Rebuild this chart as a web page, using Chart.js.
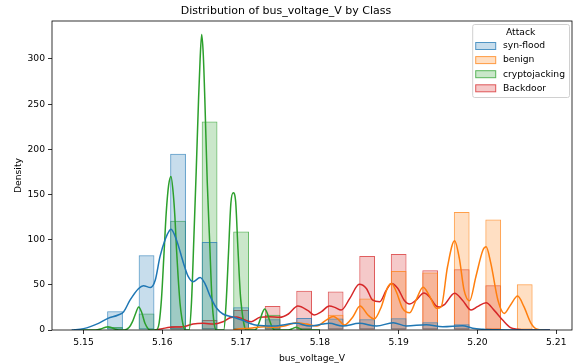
<!DOCTYPE html>
<html>
<head>
<meta charset="utf-8">
<script src="https://cdn.jsdelivr.net/npm/chart.js@4"></script>
<style>
  html, body { margin: 0; padding: 0; background: #fff; }
  #wrap { width: 574px; height: 364px; }
</style>
</head>
<body>
<div id="wrap"><canvas id="myChart" width="574" height="364"></canvas></div>
<script>
// histogram bins (centre of each 0.002 wide bar)
let binCenters = [5.154, 5.158, 5.162, 5.166, 5.170, 5.174, 5.178, 5.182, 5.186, 5.190, 5.194, 5.198, 5.202, 5.206];

let synFloodHist = [20.7, 82.6, 195, 97.3, 25.1, 11.8, 13.3, 12.7, 11.8, 12.9, 8.5, 6.3, 0, 0];
let benignHist = [0, 0, 0, 0, 0, 2, 6, 17, 35, 65.3, 63.6, 130.5, 122.4, 50.5];
let cryptoHist = [3.3, 18.4, 121, 230.8, 109, 17, 2, 0, 0, 0, 0, 0, 0, 0];
let backdoorHist = [0, 0, 4.4, 11, 22, 26.5, 43.5, 42.7, 82, 84, 66, 67.1, 49.4, 0];

// kde curves
let synFloodKdeX = [5.1485, 5.1500, 5.1519, 5.1531, 5.1544, 5.1551, 5.1559, 5.1570, 5.1576, 5.1585, 5.1591, 5.1597, 5.1604, 5.1609, 5.1611, 5.1618, 5.1627, 5.1633, 5.1639, 5.1648, 5.1654, 5.1661, 5.1669, 5.1677, 5.1688, 5.1701, 5.1711, 5.1720, 5.1741, 5.1770, 5.1787, 5.1804, 5.1812, 5.1829, 5.1850, 5.1872, 5.1893, 5.1910, 5.1935, 5.1956, 5.1981, 5.1994, 5.2007, 5.2025, 5.2050, 5.2092];
let synFloodKdeY = [0, 1.5, 7.4, 12.9, 16.6, 20.3, 33, 46, 49, 47, 55, 81, 101, 110, 111.4, 99.6, 73.7, 59, 53.5, 58, 51.6, 36.9, 24, 17.7, 14.7, 11, 7.4, 5.2, 4.4, 7.4, 4.4, 6.6, 7.4, 4.4, 7.4, 4.4, 8.1, 4.4, 5.9, 3.7, 4.8, 1.9, 0.8, 0.2, 0, 0];

let benignKdeX = [5.1690, 5.1694, 5.1711, 5.1730, 5.1741, 5.1755, 5.1770, 5.1783, 5.1796, 5.1808, 5.1817, 5.1823, 5.1831, 5.1842, 5.1851, 5.1861, 5.1869, 5.1878, 5.1886, 5.1891, 5.1897, 5.1905, 5.1914, 5.1922, 5.1931, 5.1939, 5.1948, 5.1954, 5.1962, 5.1971, 5.1977, 5.1983, 5.1990, 5.1998, 5.2007, 5.2011, 5.2017, 5.2026, 5.2034, 5.2042, 5.2051, 5.2059, 5.2068, 5.2076, 5.2085];
let benignKdeY = [0, 0.8, 1.9, 3.7, 3, 4.4, 8.1, 6.6, 4.4, 11, 14.9, 12, 5.5, 14.7, 26.5, 16.6, 12.2, 25.8, 47.2, 51.6, 42.4, 24, 19.2, 33, 47.2, 38, 24, 25.8, 70, 98.8, 79.3, 44.2, 32.4, 59, 88.5, 92.1, 73.7, 33, 18.4, 27.7, 37.6, 25.8, 7.4, 0.8, 0];

let cryptoKdeX = [5.1488, 5.1515, 5.1522, 5.1527, 5.1531, 5.1535, 5.1540, 5.1545, 5.1552, 5.1558, 5.1562, 5.1566, 5.1570, 5.1574, 5.1578, 5.1582, 5.1585, 5.1592, 5.1596, 5.1599, 5.1602, 5.1605, 5.1608, 5.1611, 5.1614, 5.1616, 5.1618, 5.1620, 5.16225, 5.1625, 5.1627, 5.1630, 5.1634, 5.1637, 5.1640, 5.1643, 5.1646, 5.1648, 5.1650, 5.1652, 5.1654, 5.1657, 5.1660, 5.1663, 5.1666, 5.1669, 5.1678, 5.1681, 5.1684, 5.1687, 5.1690, 5.1693, 5.1696, 5.1699, 5.1701, 5.1704, 5.1706, 5.1717, 5.1720, 5.1724, 5.1727, 5.1730, 5.1733, 5.1736, 5.1740, 5.1743, 5.1760, 5.1766, 5.1770, 5.1774, 5.1779, 5.1800];
let cryptoKdeY = [0, 0, 1.2, 2.8, 3.7, 2.8, 1, 0, 0, 3, 9, 18, 25.5, 19, 7.4, 1.5, 0, 0, 8, 35, 82, 130, 160, 170, 150, 125, 90, 60, 29.5, 12, 3.7, 0, 0, 30, 100, 175, 255, 300, 327, 305, 255, 165, 100, 35, 6, 0, 0, 30, 85, 140, 152, 143, 90, 40, 22, 5, 0, 0, 2, 11, 19, 23.2, 19, 11, 2, 0, 0, 1.8, 3, 1.8, 0, 0];

let backdoorKdeX = [5.1590, 5.1600, 5.1610, 5.1627, 5.1639, 5.1652, 5.1665, 5.1677, 5.1686, 5.1694, 5.1700, 5.1707, 5.1713, 5.1724, 5.1736, 5.1749, 5.1760, 5.1772, 5.1785, 5.1793, 5.1802, 5.1812, 5.1819, 5.1827, 5.1838, 5.1850, 5.1859, 5.1867, 5.1876, 5.1884, 5.1891, 5.1899, 5.1907, 5.1914, 5.1922, 5.1932, 5.1939, 5.1947, 5.1952, 5.1958, 5.1971, 5.1981, 5.1992, 5.2000, 5.2011, 5.2021, 5.2032, 5.2042, 5.2051, 5.2060, 5.2092];
let backdoorKdeY = [0, 1.5, 3, 3.7, 6.6, 7.4, 6.6, 9.2, 13.5, 14.5, 13, 10.3, 9.2, 14, 14.7, 14, 17.7, 26.5, 21.4, 16.6, 20.3, 26.5, 25, 22, 35, 50.5, 46, 33, 31.3, 43.5, 51.6, 46, 33, 28.8, 33, 41, 36.9, 27, 25.5, 28, 40.6, 33, 22, 25.8, 30.2, 22, 11, 2.6, 0.8, 0, 0];

let xTicks = [5.15, 5.16, 5.17, 5.18, 5.19, 5.20, 5.21];
let yTicks = [0, 50, 100, 150, 200, 250, 300];

let labels = ['syn-flood', 'benign', 'cryptojacking', 'Backdoor'];
let colors = ['31, 119, 180', '255, 127, 14', '44, 160, 44', '214, 39, 40'];
let hists = [synFloodHist, benignHist, cryptoHist, backdoorHist];
let kdeX = [synFloodKdeX, benignKdeX, cryptoKdeX, backdoorKdeX];
let kdeY = [synFloodKdeY, benignKdeY, cryptoKdeY, backdoorKdeY];

const FONT = '"DejaVu Sans", sans-serif';

let datasets = [];
labels.forEach((name, i) => {
    datasets.push({
        type: 'bar',
        label: name,
        data: binCenters.map((x, j) => ({ x: x, y: hists[i][j] })),
        backgroundColor: 'rgba(' + colors[i] + ', 0.25)',
        borderColor: 'rgba(' + colors[i] + ', 0.75)',
        borderWidth: 1,
        borderSkipped: false,
        grouped: false,
        barPercentage: 1,
        categoryPercentage: 0.5,
        order: 2
    });
});
labels.forEach((name, i) => {
    datasets.push({
        type: 'line',
        label: name + ' kde',
        data: kdeX[i].map((x, j) => ({ x: x, y: kdeY[i][j] })),
        borderColor: 'rgb(' + colors[i] + ')',
        borderWidth: 1.5,
        pointRadius: 0,
        fill: false,
        cubicInterpolationMode: 'monotone',
        order: 1
    });
});

// matplotlib style frame round the axes
const frame = {
    id: 'frame',
    afterDatasetsDraw(chart) {
        const a = chart.chartArea, ctx = chart.ctx;
        ctx.save();
        ctx.strokeStyle = '#000';
        ctx.lineWidth = 0.8;
        ctx.strokeRect(a.left, a.top, a.right - a.left, a.bottom - a.top);
        ctx.restore();
    }
};

// legend box with title, top right inside the axes
const attackLegend = {
    id: 'attackLegend',
    afterDraw(chart) {
        const a = chart.chartArea, ctx = chart.ctx;
        const items = chart.data.datasets.filter(d => d.type === 'bar');
        ctx.save();
        ctx.font = '9.2px ' + FONT;
        const textW = Math.max(...items.map(d => ctx.measureText(d.label).width));
        const w = 3 + 20 + 7.7 + textW + 4;
        const h = 73;
        const x = a.right - 3 - w;
        const y = a.top + 3;
        ctx.fillStyle = 'rgba(255,255,255,0.8)';
        ctx.strokeStyle = '#d0d0d0';
        ctx.lineWidth = 1;
        ctx.beginPath();
        ctx.roundRect(x + 0.5, y + 0.5, w, h, 2);
        ctx.fill();
        ctx.stroke();
        ctx.fillStyle = '#000';
        ctx.textBaseline = 'middle';
        ctx.textAlign = 'center';
        ctx.fillText('Attack', x + w / 2, y + 8.5);
        ctx.textAlign = 'left';
        items.forEach((d, i) => {
            const cy = y + 22 + i * 14.1;
            ctx.fillStyle = d.backgroundColor;
            ctx.fillRect(x + 3.5, cy - 3.5, 20, 7);
            ctx.strokeStyle = d.borderColor;
            ctx.strokeRect(x + 3.5, cy - 3.5, 20, 7);
            ctx.fillStyle = '#000';
            ctx.fillText(d.label, x + 3 + 20 + 7.7, cy);
        });
        ctx.restore();
    }
};

let myChart = document.getElementById('myChart').getContext('2d');

let chart = new Chart(myChart, {
    type: 'bar',
    data: { datasets: datasets },
    plugins: [frame, attackLegend],
    options: {
        responsive: false,
        animation: false,
        layout: { padding: { left: 0, right: 2, top: 0, bottom: 0 } },
        plugins: {
            legend: { display: false },
            tooltip: { enabled: false },
            title: {
                display: true,
                text: 'Distribution of bus_voltage_V by Class',
                color: '#000',
                font: { family: FONT, size: 11, weight: 'normal' },
                padding: { top: 4.5, bottom: 3.3 }
            }
        },
        scales: {
            x: {
                type: 'linear',
                min: 5.146,
                max: 5.212,
                offset: false,
                afterBuildTicks: (scale) => { scale.ticks = xTicks.map(v => ({ value: v })); },
                afterFit: (scale) => { scale.height = 34; },
                grid: { offset: false, drawOnChartArea: false, drawTicks: true, tickLength: 4, color: '#000', lineWidth: 0.8 },
                border: { display: false },
                ticks: {
                    color: '#000',
                    padding: 3,
                    maxRotation: 0,
                    font: { family: FONT, size: 9.2 },
                    callback: (v) => v.toFixed(2)
                },
                title: {
                    display: true,
                    text: 'bus_voltage_V',
                    color: '#000',
                    font: { family: FONT, size: 9.2 },
                    padding: { top: 5.5, bottom: 0 }
                }
            },
            y: {
                min: 0,
                max: 342,
                afterBuildTicks: (scale) => { scale.ticks = yTicks.map(v => ({ value: v })); },
                afterFit: (scale) => { scale.width = 52; },
                grid: { drawOnChartArea: false, drawTicks: true, tickLength: 4, color: '#000', lineWidth: 0.8 },
                border: { display: false },
                ticks: {
                    color: '#000',
                    padding: 3,
                    font: { family: FONT, size: 9.2 }
                },
                title: {
                    display: true,
                    text: 'Density',
                    color: '#000',
                    font: { family: FONT, size: 9.2 },
                    padding: { top: 13.5, bottom: 0 }
                }
            }
        }
    }
});
</script>
</body>
</html>
